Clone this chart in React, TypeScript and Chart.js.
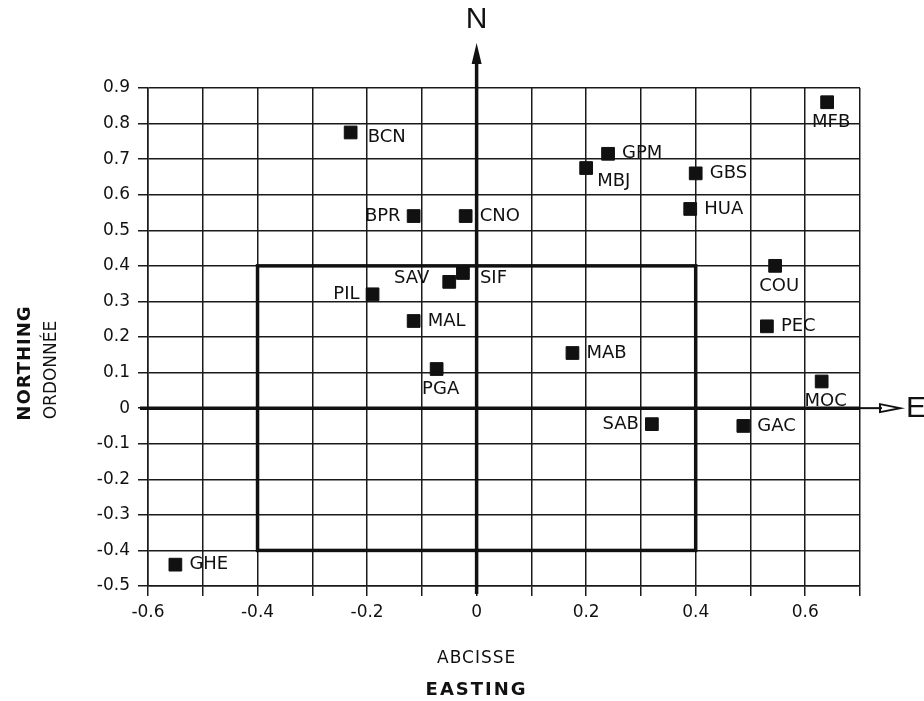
import React, { useEffect, useRef } from 'react';
import { Chart, registerables } from 'chart.js';

Chart.register(...registerables);

// ---- data ----
const stations = ['BCN', 'BPR', 'CNO', 'GPM', 'MBJ', 'GBS', 'HUA', 'MFB', 'SAV', 'SIF', 'PIL', 'MAL', 'PGA', 'MAB', 'SAB', 'GAC', 'COU', 'PEC', 'MOC', 'GHE'];
const easting = [-0.23, -0.115, -0.02, 0.24, 0.2, 0.4, 0.39, 0.64, -0.05, -0.025, -0.19, -0.115, -0.073, 0.175, 0.32, 0.487, 0.545, 0.53, 0.63, -0.55];
const northing = [0.775, 0.54, 0.54, 0.715, 0.675, 0.66, 0.56, 0.86, 0.355, 0.38, 0.32, 0.245, 0.11, 0.155, -0.045, -0.05, 0.4, 0.23, 0.075, -0.44];
const xTickLabels = ['-0.6', '-0.4', '-0.2', '0', '0.2', '0.4', '0.6'];
const yTickLabels = ['-0.5', '-0.4', '-0.3', '-0.2', '-0.1', '0', '0.1', '0.2', '0.3', '0.4', '0.5', '0.6', '0.7', '0.8', '0.9'];
const boxLimits = [-0.4, 0.4];

// label placement (style only)
const labelAnchors = ['rightLow', 'left', 'right', 'right', 'belowRight', 'right', 'right', 'below', 'leftHigh', 'rightLow', 'left', 'right', 'below', 'right', 'left', 'right', 'below', 'right', 'below', 'right'];
const anchorStyles: Record<string, { dx: number; dy: number; align: CanvasTextAlign }> = {
  right: { dx: 14, dy: 0, align: 'left' },
  rightLow: { dx: 17, dy: 5, align: 'left' },
  left: { dx: -13, dy: 0, align: 'right' },
  leftHigh: { dx: -20, dy: -4, align: 'right' },
  below: { dx: 4, dy: 20, align: 'center' },
  belowRight: { dx: 11, dy: 13, align: 'left' },
};

const FONT = '"DejaVu Sans", sans-serif';

const fmt = (v: number) => {
  const r = Math.round(v * 10) / 10;
  return r === 0 ? '0' : r.toFixed(1);
};

const decorPlugin = {
  id: 'decor',
  beforeDatasetsDraw(chart: any) {
    const { ctx, scales } = chart;
    const xs = scales.x;
    const ys = scales.y;
    const area = chart.chartArea;
    ctx.save();
    ctx.strokeStyle = '#111';
    ctx.lineCap = 'butt';
    ctx.lineWidth = 3.5;
    const x0 = xs.getPixelForValue(boxLimits[0]);
    const x1 = xs.getPixelForValue(boxLimits[1]);
    const y0 = ys.getPixelForValue(boxLimits[0]);
    const y1 = ys.getPixelForValue(boxLimits[1]);
    ctx.strokeRect(x0, y1, x1 - x0, y0 - y1);
    const zx = xs.getPixelForValue(0);
    const zy = ys.getPixelForValue(0);
    ctx.beginPath();
    ctx.moveTo(zx, area.bottom + 8);
    ctx.lineTo(zx, 60);
    ctx.stroke();
    ctx.beginPath();
    ctx.moveTo(area.left - 8, zy);
    ctx.lineTo(area.right, zy);
    ctx.stroke();
    ctx.fillStyle = '#111';
    ctx.beginPath();
    ctx.moveTo(zx, 43);
    ctx.lineTo(zx - 5, 64);
    ctx.lineTo(zx + 5, 64);
    ctx.closePath();
    ctx.fill();
    ctx.lineWidth = 2;
    ctx.beginPath();
    ctx.moveTo(area.right, zy);
    ctx.lineTo(882, zy);
    ctx.stroke();
    ctx.beginPath();
    ctx.moveTo(900, zy);
    ctx.lineTo(880, zy - 4);
    ctx.lineTo(880, zy + 4);
    ctx.closePath();
    ctx.stroke();
    ctx.restore();
  },
  afterDatasetsDraw(chart: any) {
    const { ctx } = chart;
    const meta = chart.getDatasetMeta(0);
    ctx.save();
    ctx.fillStyle = '#111';
    ctx.font = `18px ${FONT}`;
    ctx.textBaseline = 'middle';
    meta.data.forEach((pt: any, i: number) => {
      const st = anchorStyles[labelAnchors[i]];
      ctx.textAlign = st.align;
      ctx.fillText(stations[i], pt.x + st.dx, pt.y + st.dy);
    });
    const zx = chart.scales.x.getPixelForValue(0);
    const zy = chart.scales.y.getPixelForValue(0);
    ctx.font = '30px "Liberation Sans", sans-serif';
    ctx.textAlign = 'center';
    ctx.fillText('N', zx, 20);
    ctx.textAlign = 'left';
    ctx.fillText('E', 906, zy + 1);

    ctx.textAlign = 'center';
    (ctx as any).letterSpacing = '1px';
    ctx.font = `17px ${FONT}`;
    ctx.fillText('ABCISSE', zx, 659);
    (ctx as any).letterSpacing = '2px';
    ctx.font = `bold 18px ${FONT}`;
    ctx.fillText('EASTING', zx, 690);

    ctx.save();
    ctx.translate(25, 363);
    ctx.rotate(-Math.PI / 2);
    (ctx as any).letterSpacing = '1px';
    ctx.font = `bold 18px ${FONT}`;
    ctx.fillText('NORTHING', 0, 0);
    ctx.restore();
    ctx.save();
    ctx.translate(52, 370);
    ctx.rotate(-Math.PI / 2);
    (ctx as any).letterSpacing = '0px';
    ctx.font = `17px ${FONT}`;
    ctx.fillText('ORDONNÉE', 0, 0);
    ctx.restore();
    (ctx as any).letterSpacing = '0px';
    ctx.restore();
  },
};

export default function App() {
  const ref = useRef<HTMLCanvasElement | null>(null);
  useEffect(() => {
    if (!ref.current) return;
    const data = stations.map((s, i) => ({ x: easting[i], y: northing[i] }));
    const gridColor = '#1a1a1a';
    const chart = new Chart(ref.current, {
      type: 'scatter',
      data: {
        datasets: [
          {
            label: 'stations',
            data,
            pointStyle: 'rect',
            pointRadius: 9,
            pointHoverRadius: 9,
            backgroundColor: '#111',
            borderColor: '#111',
            borderWidth: 1,
          },
        ],
      },
      plugins: [decorPlugin],
      options: {
        animation: false,
        responsive: false,
        maintainAspectRatio: false,
        devicePixelRatio: 1,
        layout: { padding: { top: 88, right: 64, left: 0, bottom: 0 } },
        plugins: { legend: { display: false }, tooltip: { enabled: false } },
        events: [],
        scales: {
          x: {
            type: 'linear',
            min: -0.6,
            max: 0.7,
            afterFit: (s: any) => {
              s.height = 115;
            },
            ticks: {
              stepSize: 0.1,
              autoSkip: false,
              maxRotation: 0,
              padding: 6,
              color: '#111',
              font: { family: FONT, size: 17 },
              callback: (v: any) => {
                const t = fmt(Number(v));
                return xTickLabels.includes(t) ? t : '';
              },
            },
            grid: { color: gridColor, lineWidth: 1.5, tickLength: 10, drawTicks: true },
            border: { color: gridColor, width: 1.5 },
          },
          y: {
            type: 'linear',
            min: -0.5,
            max: 0.9,
            afterFit: (s: any) => {
              s.width = 148;
            },
            ticks: {
              stepSize: 0.1,
              autoSkip: false,
              padding: 8,
              color: '#111',
              font: { family: FONT, size: 17 },
              callback: (v: any) => {
                const t = fmt(Number(v));
                return yTickLabels.includes(t) ? t : '';
              },
            },
            grid: { color: gridColor, lineWidth: 1.5, tickLength: 10, drawTicks: true },
            border: { color: gridColor, width: 1.5 },
          },
        },
      },
    } as any);
    return () => chart.destroy();
  }, []);
  return (
    <div style={{ position: 'absolute', left: 0, top: 0, width: 924, height: 701, background: '#fff' }}>
      <canvas ref={ref} width={924} height={701} style={{ display: 'block' }} />
    </div>
  );
}
